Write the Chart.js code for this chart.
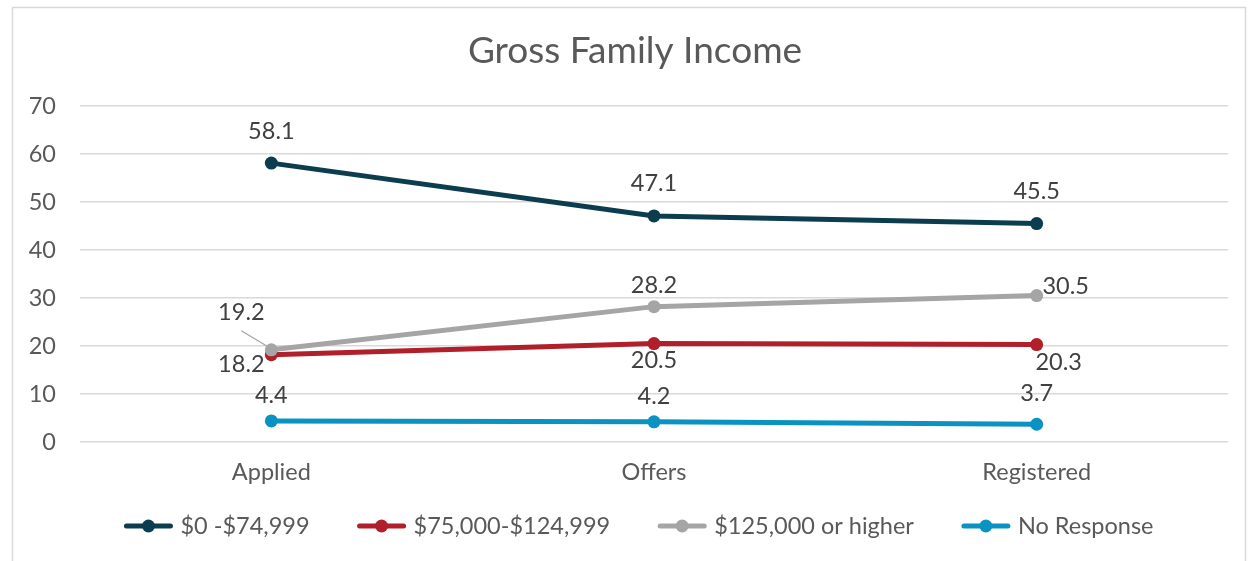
<!DOCTYPE html>
<html lang="en">
<head>
    <meta charset="UTF-8">
    <script src="https://cdn.jsdelivr.net/npm/chart.js"></script>
    <style>
        body { margin: 0; background: #fff; }
        #wrap { position: relative; width: 1253px; height: 561px; }
    </style>
    <title>Gross Family Income</title>
</head>
<body>
<div id="wrap"><canvas id="myChart"></canvas></div>
<script>
    // data
    const categories = ['Applied', 'Offers', 'Registered'];
    const seriesNames = ['$0 -$74,999', '$75,000-$124,999', '$125,000 or higher', 'No Response'];
    const lowIncome = [58.1, 47.1, 45.5];
    const midIncome = [18.2, 20.5, 20.3];
    const highIncome = [19.2, 28.2, 30.5];
    const noResponse = [4.4, 4.2, 3.7];
    const yMin = 0, yMax = 70, yStep = 10;

    const colors = ['#0B3D4F', '#B01F2A', '#A5A5A5', '#0A93C2'];
    // label offsets from the point (px) - same as excel placement
    const labelOffsets = [
        [[0, -32], [0, -32], [0, -32]],
        [[-30, 10], [0, 17], [22, 18]],
        [[-30, -37], [0, -21], [29, -9]],
        [[0, -25], [0, -25], [0, -31]]
    ];
    const FONT = 'Lato, "Open Sans", sans-serif';
    const FS = 23.5;

    const allData = [lowIncome, midIncome, highIncome, noResponse];

    const frame = {
        id: 'frame',
        beforeDraw(chart) {
            const c = chart.ctx;
            c.save();
            c.fillStyle = '#fff';
            c.fillRect(0, 0, chart.width, chart.height);
            c.strokeStyle = '#D9D9D9';
            c.lineWidth = 1.5;
            c.strokeRect(12.5, 7.5, 1233, 620);
            // title
            c.fillStyle = '#595959';
            c.font = '37px ' + FONT;
            c.textAlign = 'center';
            c.textBaseline = 'middle';
            c.fillText('Gross Family Income', 635, 51);
            c.restore();
        },
        afterDatasetsDraw(chart) {
            const c = chart.ctx;
            c.save();
            c.font = FS + 'px ' + FONT;
            c.fillStyle = '#404040';
            c.textAlign = 'center';
            c.textBaseline = 'middle';
            chart.data.datasets.forEach((ds, i) => {
                const meta = chart.getDatasetMeta(i);
                meta.data.forEach((pt, j) => {
                    const off = labelOffsets[i][j];
                    c.fillText(ds.data[j].toFixed(1), pt.x + off[0], pt.y + off[1]);
                });
            });
            // leader line for 19.2
            const p = chart.getDatasetMeta(2).data[0];
            c.strokeStyle = '#A5A5A5';
            c.lineWidth = 1.2;
            c.beginPath();
            c.moveTo(p.x - 30, p.y - 19);
            c.lineTo(p.x - 5, p.y - 4);
            c.stroke();

            // legend
            c.font = FS + 'px ' + FONT;
            c.textAlign = 'left';
            const sym = 48, gapTxt = 8, gapItem = 48;
            let widths = seriesNames.map(n => sym + gapTxt + c.measureText(n).width);
            let total = widths.reduce((a, b) => a + b, 0) + gapItem * (seriesNames.length - 1);
            let x = 639 - total / 2;
            const y = 526;
            seriesNames.forEach((n, i) => {
                c.strokeStyle = colors[i];
                c.lineWidth = 5;
                c.lineCap = 'round';
                c.beginPath();
                c.moveTo(x + 2, y);
                c.lineTo(x + sym - 2, y);
                c.stroke();
                c.fillStyle = colors[i];
                c.beginPath();
                c.arc(x + sym / 2, y, 6.5, 0, Math.PI * 2);
                c.fill();
                c.fillStyle = '#595959';
                c.fillText(n, x + sym + gapTxt, y);
                x += widths[i] + gapItem;
            });
            c.restore();
        }
    };

    const ctx = document.getElementById('myChart');
    const configs = {
        type: 'line',
        data: {
            labels: categories,
            datasets: allData.map((d, i) => ({
                label: seriesNames[i],
                data: d,
                borderColor: colors[i],
                backgroundColor: colors[i],
                borderWidth: 5,
                pointRadius: 6.5,
                pointHoverRadius: 6.5,
                pointBorderWidth: 0,
                tension: 0,
                order: i === 2 ? 0 : 1
            }))
        },
        options: {
            responsive: true,
            maintainAspectRatio: false,
            animation: false,
            events: [],
            layout: { padding: { left: 14, right: 25, top: 106, bottom: 59 } },
            plugins: { legend: { display: false }, title: { display: false }, tooltip: { enabled: false } },
            scales: {
                x: {
                    offset: true,
                    grid: { display: false, drawTicks: false },
                    border: { display: false },
                    ticks: { color: '#595959', font: { family: FONT, size: FS }, padding: 16 },
                    afterFit(s) { s.height = 60; }
                },
                y: {
                    min: yMin, max: yMax,
                    grid: { color: '#D9D9D9', lineWidth: 1.5, drawTicks: false },
                    border: { display: false },
                    ticks: { stepSize: yStep, color: '#595959', font: { family: FONT, size: FS }, padding: 24 },
                    afterFit(s) { s.width = 66; }
                }
            }
        },
        plugins: [frame]
    };
    const myChart = new Chart(ctx, configs);
</script>
</body>
</html>
